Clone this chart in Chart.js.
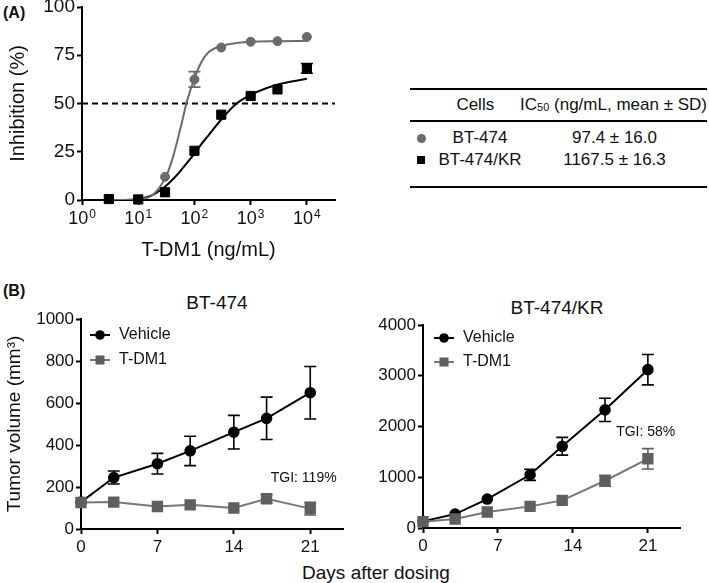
<!DOCTYPE html>
<html lang="en">
<head>
<meta charset="UTF-8">
<title>T-DM1 response in BT-474 and BT-474/KR</title>
<script src="https://cdn.jsdelivr.net/npm/chart.js@4.4.0/dist/chart.umd.min.js"></script>
<style>
  body { margin: 0; width: 709px; height: 583px; position: relative; overflow: hidden; background: #fff;
         font-family: "Liberation Sans", Arial, sans-serif; color: #111; }
  canvas { position: absolute; }
  .lbl { position: absolute; white-space: nowrap; line-height: 1; }
  .panel { font-weight: bold; font-size: 16px; }
  .ttl { font-size: 19px; transform: translate(-50%, -50%); }
  #ic50 { position: absolute; left: 410px; top: 88px; width: 297px; border-top: 2px solid #000; border-bottom: 2px solid #000;
          font-size: 17px; padding-bottom: 15px; }
  #ic50 .row { display: flex; height: 22px; line-height: 22px; white-space: nowrap; }
  #ic50 .head { height: 30px; line-height: 30px; border-bottom: 2px solid #000; margin-bottom: 5px; }
  #ic50 .mk { width: 22px; position: relative; }
  #ic50 .cell { width: 96px; text-align: center; }
  #ic50 .val { flex: 1; text-align: center; padding-right: 6px; }
  #ic50 .head .val { text-align: right; padding-right: 0; }
  #ic50 sub { font-size: 11px; vertical-align: -1px; }
  .dot { position: absolute; left: 7px; top: 7px; width: 9px; height: 9px; border-radius: 50%; background: #6b6b6b; }
  .sq { position: absolute; left: 7px; top: 7px; width: 8px; height: 8px; background: #000; }
</style>
</head>
<body>
<div class="lbl panel" style="left:3px; top:5px;">(A)</div>
<div class="lbl panel" style="left:3px; top:283px;">(B)</div>
<div class="lbl ttl" style="left:217px; top:302px;">BT-474</div>
<div class="lbl ttl" style="left:557px; top:307px;">BT-474/KR</div>
<div class="lbl ttl" style="left:376px; top:572px;">Days after dosing</div>

<canvas id="doseChart" width="360" height="283" style="left:0; top:-13px;"></canvas>
<div id="ic50"></div>
<canvas id="bt474Chart" width="355" height="303" style="left:0; top:280px;"></canvas>
<canvas id="krChart" width="354" height="303" style="left:355px; top:280px;"></canvas>

<script>
// ---- panel A: in vitro dose response ----
const doseTicks = [1, 10, 100, 1000, 10000];
const doseRange = [1, 31623];
const inhibTicks = [0, 25, 50, 75, 100];
const cutoff = 50;

const doseBT474 = [30, 100, 300, 1000, 3000, 10000];
const inhibBT474 = [12, 62.5, 79, 82, 82.3, 84.5];
const errBT474 = [0, 4, 0, 0, 0, 0];

const doseKR = [3, 10, 30, 100, 300, 1000, 3000, 10000];
const inhibKR = [0.5, 0.3, 4, 25.5, 44.2, 53.9, 57.3, 68.2];
const errKR = [0, 0, 0, 0, 0, 0, 0, 2.5];

// fitted curves
const fitDose = [3, 5.6, 10, 17.8, 31.6, 42.2, 56.2, 75, 100, 133, 178, 316, 562, 1000, 3160, 10000];
const fitBT474 = [0, 0, 0.5, 2.5, 12.5, 23, 37, 52, 63, 71.5, 76.5, 80, 81.3, 82, 82.3, 82.5];
const fitKR = [0, 0, 0.5, 2.5, 7.5, 11, 15, 19.5, 24, 29, 33.5, 42.5, 50, 54.5, 60, 62.8];

// IC50 table
const tableCells = ['BT-474', 'BT-474/KR'];
const tableIC50 = ['97.4 ± 16.0', '1167.5 ± 16.3'];
const tableMarks = ['dot', 'sq'];

// ---- panel B: xenograft growth ----
const dayTicks = [0, 7, 14, 21];
const dayRange = [0, 24];

const daysBT474 = [0, 3, 7, 10, 14, 17, 21];
const vehBT474 = [128, 245, 311, 372, 461, 527, 649];
const vehErrBT474 = [0, 31, 49, 70, 80, 101, 125];
const tdmBT474 = [126, 128, 107, 115, 100, 144, 97];
const tdmErrBT474 = [0, 0, 0, 0, 0, 20, 30];
const volTicksBT474 = [0, 200, 400, 600, 800, 1000];
const tgiBT474 = ['TGI: 119%', 20.4, 240];

const daysKR = [0, 3, 6, 10, 13, 17, 21];
const vehKR = [131, 275, 570, 1049, 1610, 2328, 3120];
const vehErrKR = [0, 0, 0, 110, 175, 230, 300];
const tdmKR = [125, 177, 315, 426, 544, 931, 1364];
const tdmErrKR = [0, 0, 0, 0, 0, 105, 200];
const volTicksKR = [0, 1000, 2000, 3000, 4000];
const tgiKR = ['TGI: 58%', 20.8, 1880];

const GRAY = '#6b6b6b';
const FONT = '"Liberation Sans", Arial, sans-serif';
Chart.defaults.font.family = FONT;
Chart.defaults.color = '#111';

const pts = (xs, ys) => xs.map((x, i) => ({ x: x, y: ys[i] }));

// error bars, in-plot legend, TGI notes and 10^n tick labels
const figureExtras = {
  id: 'figureExtras',
  afterDatasetsDraw(chart, args, opts) {
    const ctx = chart.ctx;
    const xs = chart.scales.x, ys = chart.scales.y;
    const area = chart.chartArea;
    ctx.save();
    chart.data.datasets.forEach(ds => {
      if (!ds.errors) return;
      ctx.strokeStyle = ds.pointBackgroundColor;
      ctx.lineWidth = 1.6;
      ds.data.forEach((p, i) => {
        const e = ds.errors[i];
        if (!e) return;
        const px = xs.getPixelForValue(p.x);
        const hi = ys.getPixelForValue(p.y + e);
        const lo = ys.getPixelForValue(p.y - e);
        ctx.beginPath();
        ctx.moveTo(px, hi); ctx.lineTo(px, lo);
        ctx.moveTo(px - 6, hi); ctx.lineTo(px + 6, hi);
        ctx.moveTo(px - 6, lo); ctx.lineTo(px + 6, lo);
        ctx.stroke();
      });
    });
    if (opts.note) {
      ctx.fillStyle = '#111';
      ctx.font = '14px ' + FONT;
      ctx.textAlign = 'center';
      ctx.textBaseline = 'middle';
      ctx.fillText(opts.note[0], xs.getPixelForValue(opts.note[1]), ys.getPixelForValue(opts.note[2]));
    }
    if (opts.legend) {
      const lg = opts.legend;
      let row = 0;
      chart.data.datasets.forEach(ds => {
        if (!ds.legendText) return;
        const y = area.top + lg.top + row * lg.gap;
        const x0 = area.left + lg.left;
        ctx.strokeStyle = ds.borderColor;
        ctx.lineWidth = 2;
        ctx.beginPath(); ctx.moveTo(x0, y); ctx.lineTo(x0 + 20, y); ctx.stroke();
        ctx.fillStyle = ds.pointBackgroundColor;
        if (ds.pointStyle === 'rect') {
          ctx.fillRect(x0 + 10 - 4.5, y - 4.5, 9, 9);
        } else {
          ctx.beginPath(); ctx.arc(x0 + 10, y, 4.8, 0, Math.PI * 2); ctx.fill();
        }
        ctx.fillStyle = '#111';
        ctx.font = '16px ' + FONT;
        ctx.textAlign = 'left';
        ctx.textBaseline = 'middle';
        ctx.fillText(ds.legendText, x0 + 29, y);
        row++;
      });
    }
    if (opts.powerTicks) {
      // "10" with a raised exponent under each decade tick
      ctx.fillStyle = '#111';
      ctx.textAlign = 'left';
      ctx.textBaseline = 'alphabetic';
      const baseY = xs.top + 23.5;
      xs.ticks.forEach(t => {
        const exp = String(Math.round(Math.log10(t.value)));
        ctx.font = '18px ' + FONT;
        const wBase = ctx.measureText('10').width;
        ctx.font = '12px ' + FONT;
        const wExp = ctx.measureText(exp).width;
        const left = xs.getPixelForValue(t.value) - (wBase + 1 + wExp) / 2;
        ctx.font = '18px ' + FONT;
        ctx.fillText('10', left, baseY);
        ctx.font = '12px ' + FONT;
        ctx.fillText(exp, left + wBase + 1, baseY - 6);
      });
    }
    ctx.restore();
  }
};

function axisLines(tickValues) {
  return {
    grid: { display: true, drawOnChartArea: false, drawTicks: true, tickLength: 5, tickWidth: 2, tickColor: '#000' },
    border: { display: true, color: '#000', width: 2 },
    afterBuildTicks: axis => { axis.ticks = tickValues.map(v => ({ value: v })); }
  };
}

// ---- chart A ----
new Chart(document.getElementById('doseChart'), {
  type: 'line',
  data: {
    datasets: [
      { data: pts(doseKR, inhibKR), errors: errKR, showLine: false, pointStyle: 'rect', pointRadius: 6.5,
        pointBackgroundColor: '#000', pointBorderColor: '#000', borderColor: '#000', clip: false },
      { data: pts(doseBT474, inhibBT474), errors: errBT474, showLine: false, pointStyle: 'circle', pointRadius: 4.5,
        pointBackgroundColor: GRAY, pointBorderColor: GRAY, borderColor: GRAY, clip: false },
      { data: pts(fitDose, fitBT474), borderColor: GRAY, borderWidth: 2, pointRadius: 0, cubicInterpolationMode: 'monotone' },
      { data: pts(fitDose, fitKR), borderColor: '#000', borderWidth: 2, pointRadius: 0, cubicInterpolationMode: 'monotone' },
      { data: pts(doseRange, [cutoff, cutoff]), borderColor: '#000', borderWidth: 2, borderDash: [6, 4], pointRadius: 0 }
    ]
  },
  options: {
    responsive: false,
    animation: false,
    layout: { padding: { top: 20, right: 25, bottom: 0, left: 0 } },
    plugins: { legend: { display: false }, tooltip: { enabled: false }, figureExtras: { powerTicks: true } },
    scales: {
      x: Object.assign(axisLines(doseTicks), {
        type: 'logarithmic', min: doseRange[0], max: doseRange[1],
        ticks: { display: false },
        title: { display: true, text: 'T-DM1 (ng/mL)', font: { size: 20 }, padding: { top: 0, bottom: 8 } },
        afterFit: s => { s.height = 70; }
      }),
      y: Object.assign(axisLines(inhibTicks), {
        min: 0, max: 100,
        ticks: { font: { size: 19 }, padding: 2 },
        title: { display: true, text: 'Inhibition (%)', font: { size: 20 }, padding: { top: 6, bottom: 0 } },
        afterFit: s => { s.width = 82; }
      })
    }
  },
  plugins: [figureExtras]
});

// ---- IC50 table ----
(function () {
  const box = document.getElementById('ic50');
  let html = '<div class="row head"><div class="mk"></div><div class="cell">Cells</div>' +
             '<div class="val">IC<sub>50</sub> (ng/mL, mean ± SD)</div></div>';
  tableCells.forEach((c, i) => {
    html += '<div class="row"><div class="mk"><span class="' + tableMarks[i] + '"></span></div>' +
            '<div class="cell">' + c + '</div><div class="val">' + tableIC50[i] + '</div></div>';
  });
  box.innerHTML = html;
})();

// ---- panel B charts ----
function growthChart(id, days, veh, vehErr, tdm, tdmErr, volTicks, note, pad, yWidth, xHeight, yTitle, legendPos) {
  return new Chart(document.getElementById(id), {
    type: 'line',
    data: {
      datasets: [
        { legendText: 'Vehicle', data: pts(days, veh), errors: vehErr, order: 1,
          borderColor: '#000', borderWidth: 2, pointStyle: 'circle', pointRadius: 4.8,
          pointBackgroundColor: '#000', pointBorderColor: '#000', clip: false },
        { legendText: 'T-DM1', data: pts(days, tdm), errors: tdmErr, order: 0,
          borderColor: '#777', borderWidth: 2, pointStyle: 'rect', pointRadius: 6.6,
          pointBackgroundColor: '#5f5f5f', pointBorderColor: '#5f5f5f', clip: false }
      ]
    },
    options: {
      responsive: false,
      animation: false,
      layout: { padding: pad },
      plugins: {
        legend: { display: false }, tooltip: { enabled: false },
        figureExtras: { note: note, legend: legendPos }
      },
      scales: {
        x: Object.assign(axisLines(dayTicks), {
          type: 'linear', min: dayRange[0], max: dayRange[1],
          ticks: { font: { size: 17 }, padding: 3, maxRotation: 0, callback: v => String(v) },
          afterFit: s => { s.height = xHeight; }
        }),
        y: Object.assign(axisLines(volTicks), {
          min: volTicks[0], max: volTicks[volTicks.length - 1],
          ticks: { font: { size: 17 }, padding: 2, callback: v => String(v) },
          title: yTitle,
          afterFit: s => { s.width = yWidth; }
        })
      }
    },
    plugins: [figureExtras]
  });
}

growthChart('bt474Chart', daysBT474, vehBT474, vehErrBT474, tdmBT474, tdmErrBT474, volTicksBT474, tgiBT474,
  { top: 39, right: 12, bottom: 0, left: 0 }, 81, 54,
  { display: true, text: 'Tumor volume (mm³)', font: { size: 19 }, padding: { top: 3.6, bottom: 0 } },
  { left: 9, top: 16, gap: 25 });

growthChart('krChart', daysKR, vehKR, vehErrKR, tdmKR, tdmErrKR, volTicksKR, tgiKR,
  { top: 45, right: 29, bottom: 0, left: 0 }, 68, 55,
  { display: false },
  { left: 11, top: 13, gap: 24 });
</script>
</body>
</html>
